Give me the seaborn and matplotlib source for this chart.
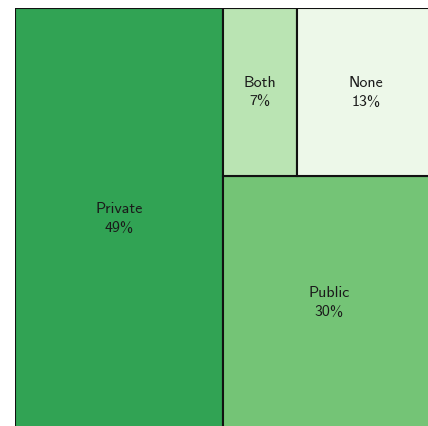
import matplotlib
matplotlib.use("Agg")
import matplotlib.pyplot as plt
import seaborn as sns
from matplotlib.patches import Rectangle

sns.set_theme(style="white")
plt.rcParams["font.family"] = ["cmss10", "DejaVu Sans"]

# Insurance coverage shares
categories = ["Private", "Public", "Both", "None"]
values = [49, 30, 7, 13]
colors = sns.color_palette(["#31a354", "#74c476", "#bae4b3", "#edf8e9"])


def treemap_layout(vals, width=100.0, height=100.0):
    """Largest item takes a full-height column on the left; the rest of the
    width holds the second item along the bottom and the remaining items in
    a row across the top."""
    total = sum(vals)
    first, second, *others = vals
    w0 = width * first / total
    rects = [(0.0, 0.0, w0, height)]
    rest_w = width - w0
    rest_total = total - first
    top_h = height * sum(others) / rest_total
    rects.append((w0, 0.0, rest_w, height - top_h))
    x = w0
    for v in others:
        w = rest_w * v / sum(others)
        rects.append((x, height - top_h, w, top_h))
        x += w
    return rects


fig = plt.figure(figsize=(4.28, 4.26), dpi=100)
ax = fig.add_axes([15 / 428, -2 / 426, 420 / 428, 420 / 426])

for (x, y, w, h), label, val, col in zip(treemap_layout(values), categories, values, colors):
    ax.add_patch(Rectangle((x, y), w, h, facecolor=col, edgecolor="#111111", linewidth=1.5))
    ax.text(x + w / 2, y + h / 2, f"{label}\n{val}%", ha="center", va="center",
            fontsize=11.5, color="#1a1a1a", linespacing=1.45)

ax.set_xlim(0, 100)
ax.set_ylim(0, 100)
ax.set_axis_off()

fig.savefig("out.png", dpi=100)
